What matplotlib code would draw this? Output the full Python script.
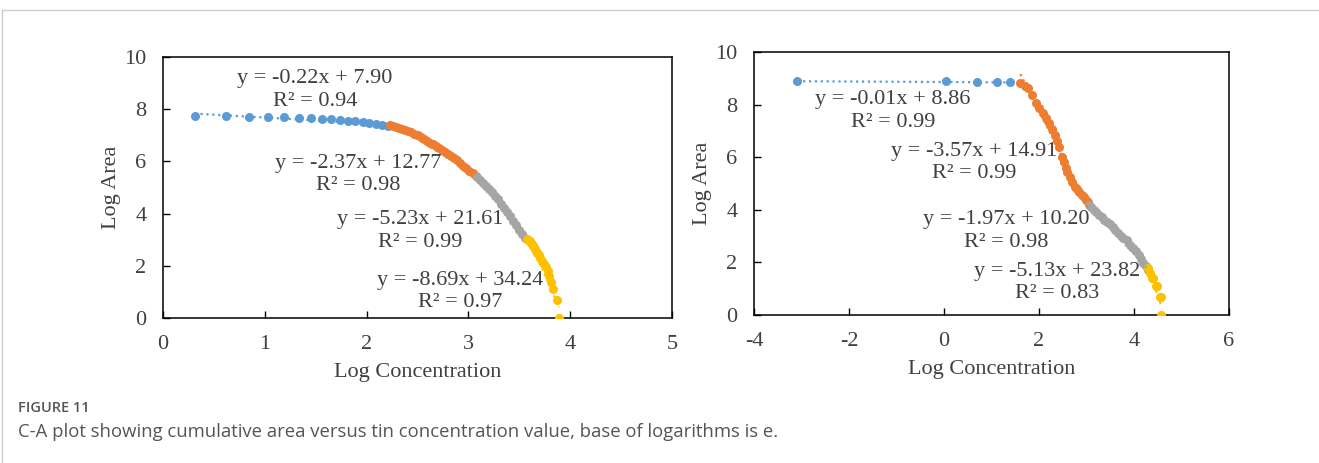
import matplotlib.pyplot as plt
from matplotlib.lines import Line2D

# Excel style colours for the four segments
COLOURS = ['#5B9BD5', '#ED7D31', '#A5A5A5', '#FFC000']
TEXT = '#404040'

# ---- left panel data (log concentration, log area) ----
left_blue_x = [0.31, 0.62, 0.84, 1.03, 1.19, 1.34, 1.45, 1.56, 1.65, 1.74,
               1.82, 1.89, 1.96, 2.02, 2.09, 2.15, 2.21]
left_blue_y = [7.75, 7.73, 7.72, 7.71, 7.70, 7.68, 7.66, 7.64, 7.61, 7.59,
               7.56, 7.53, 7.50, 7.47, 7.44, 7.40, 7.36]
left_orange_x = [2.23, 2.26, 2.29, 2.32, 2.35, 2.38, 2.41, 2.44, 2.47, 2.50,
                 2.53, 2.56, 2.59, 2.62, 2.65, 2.68, 2.71, 2.74, 2.77, 2.80,
                 2.83, 2.86, 2.89, 2.92, 2.95, 2.98, 3.01, 3.04, 3.07]
left_orange_y = [7.39, 7.35, 7.31, 7.27, 7.23, 7.19, 7.15, 7.11, 7.06, 7.00,
                 6.93, 6.86, 6.79, 6.72, 6.65, 6.58, 6.51, 6.43, 6.36, 6.28,
                 6.20, 6.12, 6.04, 5.94, 5.84, 5.74, 5.64, 5.54, 5.44]
left_grey_x = [3.08, 3.11, 3.14, 3.17, 3.20, 3.23, 3.26, 3.29, 3.32, 3.35,
               3.38, 3.41, 3.44, 3.47, 3.50, 3.53, 3.56]
left_grey_y = [5.40, 5.30, 5.18, 5.06, 4.94, 4.82, 4.68, 4.54, 4.38, 4.22,
               4.06, 3.90, 3.72, 3.55, 3.38, 3.20, 3.05]
left_yellow_x = [3.58, 3.59, 3.60, 3.61, 3.62, 3.63, 3.64, 3.65, 3.66, 3.67,
                 3.69, 3.70, 3.72, 3.74, 3.76, 3.78, 3.79, 3.81, 3.83, 3.87, 3.89]
left_yellow_y = [3.04, 3.00, 2.94, 2.89, 2.83, 2.77, 2.71, 2.64, 2.57, 2.49,
                 2.40, 2.30, 2.20, 2.08, 1.95, 1.79, 1.61, 1.39, 1.10, 0.69, 0.0]
left_slopes = [-0.22, -2.37, -5.23, -8.69]
left_intercepts = [7.90, 12.77, 21.61, 34.24]
left_r2 = [0.94, 0.98, 0.99, 0.97]

# ---- right panel data ----
right_blue_x = [-3.09, 0.04, 0.70, 1.11, 1.39]
right_blue_y = [8.89, 8.88, 8.87, 8.87, 8.86]
right_orange_x = [1.61, 1.70, 1.78, 1.86, 1.94, 2.01, 2.08, 2.15, 2.22, 2.28,
                  2.34, 2.39, 2.43, 2.48, 2.52, 2.56, 2.60, 2.65, 2.70, 2.76,
                  2.80, 2.85, 2.90, 2.95, 3.00, 3.04]
right_orange_y = [8.81, 8.72, 8.62, 8.35, 8.05, 7.86, 7.67, 7.48, 7.29, 7.06,
                  6.84, 6.62, 6.40, 6.00, 5.80, 5.58, 5.42, 5.26, 5.07, 4.88,
                  4.78, 4.66, 4.56, 4.47, 4.38, 4.31]
right_grey_x = [3.06, 3.10, 3.15, 3.20, 3.26, 3.32, 3.38, 3.44, 3.49, 3.55,
                3.60, 3.66, 3.72, 3.78, 3.85, 3.92, 3.98, 4.04, 4.10, 4.15,
                4.20, 4.25, 4.30]
right_grey_y = [4.20, 4.10, 4.00, 3.92, 3.82, 3.72, 3.62, 3.54, 3.47, 3.36,
                3.24, 3.12, 3.02, 2.94, 2.84, 2.68, 2.54, 2.42, 2.28, 2.14,
                1.98, 1.86, 1.73]
right_yellow_x = [4.30, 4.33, 4.38, 4.41, 4.46, 4.49, 4.54, 4.57, 4.58]
right_yellow_y = [1.79, 1.61, 1.39, 1.39, 1.10, 1.10, 0.69, 0.69, 0.0]
right_slopes = [-0.01, -3.57, -1.97, -5.13]
right_intercepts = [8.86, 14.91, 10.20, 23.82]
right_r2 = [0.99, 0.99, 0.98, 0.83]

# where the equation labels sit (data coords)
left_label_pos = [(1.49, 8.74), (1.92, 5.50), (2.53, 3.33), (2.92, 1.02)]
right_label_pos = [(-1.07, 7.76), (0.63, 5.80), (1.31, 3.19), (2.38, 1.24)]

plt.rcParams['font.family'] = ['Liberation Serif', 'DejaVu Serif']
plt.rcParams['axes.unicode_minus'] = False

fig = plt.figure(figsize=(13.19, 4.63), dpi=100)


def draw_panel(ax, xs, ys, slopes, intercepts, r2, label_pos):
    # markers first, then the dotted trendline over each segment
    for x, y, c in zip(xs, ys, COLOURS):
        ax.plot(x, y, 'o', color=c, markersize=6.5, markeredgewidth=0,
                zorder=3)
    for x, c, m, b in zip(xs, COLOURS, slopes, intercepts):
        x0, x1 = min(x), max(x)
        ax.plot([x0, x1], [m * x0 + b, m * x1 + b], ':', color=c,
                linewidth=1.6, zorder=4)
    for (px, py), m, b, r in zip(label_pos, slopes, intercepts, r2):
        ax.text(px, py, 'y = %.2fx + %.2f\nR² = %.2f' % (m, b, r),
                ha='center', va='center', fontsize=16, color=TEXT,
                linespacing=1.25, zorder=5)
    ax.set_ylim(0, 10)
    ax.set_yticks([0, 2, 4, 6, 8, 10])
    ax.tick_params(direction='in', length=5, labelsize=16,
                   labelcolor=TEXT, width=1)
    ax.tick_params(axis='x', pad=12)
    ax.tick_params(axis='y', pad=12)
    for s in ax.spines.values():
        s.set_linewidth(1.1)
        s.set_color('black')
    ax.set_xlabel('Log Concentration', fontsize=16, color=TEXT, labelpad=7)
    ax.set_ylabel('Log Area', fontsize=16, color=TEXT, labelpad=2)
    ax.patch.set_alpha(0)


ax1 = fig.add_axes([0.1236, 0.3132, 0.3859, 0.5637])
draw_panel(ax1,
           [left_blue_x, left_orange_x, left_grey_x, left_yellow_x],
           [left_blue_y, left_orange_y, left_grey_y, left_yellow_y],
           left_slopes, left_intercepts, left_r2, left_label_pos)
ax1.set_xlim(0, 5)
ax1.set_xticks([0, 1, 2, 3, 4, 5])

ax2 = fig.add_axes([0.5716, 0.3196, 0.3601, 0.5680])
draw_panel(ax2,
           [right_blue_x, right_orange_x, right_grey_x, right_yellow_x],
           [right_blue_y, right_orange_y, right_grey_y, right_yellow_y],
           right_slopes, right_intercepts, right_r2, right_label_pos)
ax2.set_xlim(-4, 6)
ax2.set_xticks([-4, -2, 0, 2, 4, 6])

# page frame and caption
fig.add_artist(Line2D([2 / 1319, 1], [1 - 10 / 463, 1 - 10 / 463],
                      color='#cccccc', linewidth=1))
fig.add_artist(Line2D([2 / 1319, 2 / 1319], [0, 1 - 10 / 463],
                      color='#cccccc', linewidth=1))
fig.text(18 / 1319, 1 - 408 / 463, 'FIGURE 11', family='Open Sans',
         fontsize=10.5, color='#555555', va='center', fontweight='semibold')
fig.text(18 / 1319, 1 - 432 / 463,
         'C-A plot showing cumulative area versus tin concentration value, '
         'base of logarithms is e.',
         family='Open Sans', fontsize=13.3, color='#555555', va='center')

plt.savefig('out.png', dpi=100)
plt.close()
